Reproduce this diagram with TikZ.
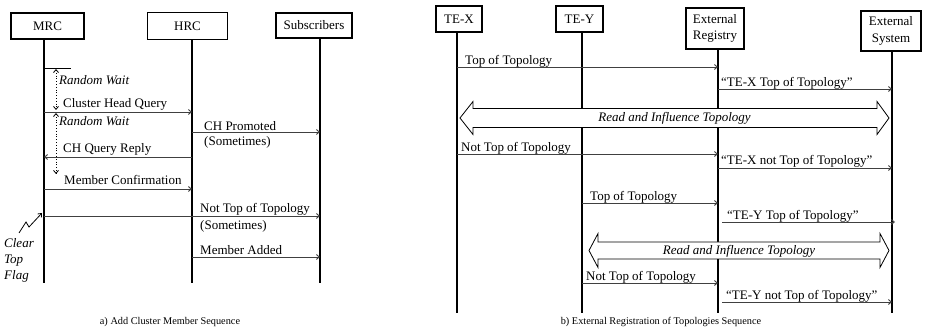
\documentclass[tikz,border=0pt]{standalone}
\usepackage{fontspec}
\setmainfont{Liberation Serif}
\usetikzlibrary{arrows.meta}
\begin{document}
\begin{tikzpicture}[x=1pt,y=-1pt,
  actor/.style={draw, line width=2.6pt, fill=white, inner sep=0pt, align=center,
    font=\fontsize{13}{16.5}\selectfont},
  thinactor/.style={actor, line width=1.8pt},
  life/.style={line width=2.6pt},
  thinlife/.style={line width=1.6pt},
  msg/.style={draw=black!75, line width=0.9pt, -{Straight Barb[length=3pt,width=5pt]}},
  lbl/.style={font=\fontsize{13}{15}\selectfont, inner sep=0pt, anchor=west},
  note/.style={font=\fontsize{13}{15}\selectfont\itshape, inner sep=0pt, anchor=west},
  bigarrow/.style={draw, fill=white, line width=0.8pt, line join=miter},
  caption/.style={font=\fontsize{10.3}{12}\selectfont, inner sep=0pt}]
\useasboundingbox (0,0) rectangle (927,336);

% ---------- a) Add Cluster Member Sequence ----------
\node[actor, minimum width=73pt, minimum height=26pt] (MRC) at (47.5,26) {MRC};
\node[thinactor, minimum width=80pt, minimum height=27pt] (HRC) at (187.5,26) {HRC};
\node[actor, minimum width=76pt, minimum height=25pt] (SUB) at (314,25.5) {Subscribers};

\coordinate (lMRC) at (44,0);
\coordinate (lHRC) at (192,0);
\coordinate (lSUB) at (320,0);

\draw[life] (lMRC |- MRC.south) -- (lMRC |- 0,283);
\draw[thinlife] (lHRC |- HRC.south) -- (lHRC |- 0,283);
\draw[life] (lSUB |- SUB.south) -- (lSUB |- 0,283);

% random wait intervals
\draw[line width=0.9pt] (lMRC |- 0,68) -- (71,68);
\coordinate (rw1a) at (56,69);
\coordinate (rw1b) at (56,110);
\coordinate (rw2a) at (56,113);
\coordinate (rw2b) at (56,174);
\draw[dotted, line width=0.8pt, {Straight Barb[length=3pt,width=5pt]}-{Straight Barb[length=3pt,width=5pt]}] (rw1a) -- (rw1b);
\draw[dotted, line width=0.8pt, {Straight Barb[length=3pt,width=5pt]}-{Straight Barb[length=3pt,width=5pt]}] (rw2a) -- (rw2b);
\node[note] (rw1) at (59,80) {Random Wait};
\node[note] (rw2) at (59,121) {Random Wait};

% messages
\draw[msg] (lMRC |- 0,112) -- (lHRC |- 0,112);
\node[lbl] (chq) at (63,104) {Cluster Head Query};

\draw[msg] (lHRC |- 0,132) -- (lSUB |- 0,132);
\node[lbl] (chp) at (204,126.5) {CH Promoted};
\node[lbl] (chp2) at (204,142) {(Sometimes)};

\draw[msg] (lHRC |- 0,157) -- (lMRC |- 0,157);
\node[lbl] (chr) at (63,149) {CH Query Reply};

\draw[msg] (lMRC |- 0,189) -- (lHRC |- 0,189);
\node[lbl] (mc) at (64,180) {Member Confirmation};

\draw[msg] (lMRC |- 0,216) -- (lSUB |- 0,216);
\node[lbl] (ntt) at (200,209.5) {Not Top of Topology};
\node[lbl] (ntt2) at (200,226) {(Sometimes)};

\draw[msg] (lHRC |- 0,257) -- (lSUB |- 0,257);
\node[lbl] (ma) at (200,250.5) {Member Added};

% clear top flag
\node[note, align=left, font=\fontsize{13}{16.2}\selectfont\itshape, anchor=north west] (ctf) at (4,238) {Clear\\Top\\Flag};
\coordinate (zz1) at (19,233);
\coordinate (zz2) at (26,222);
\coordinate (zz3) at (29,227);
\coordinate (zz4) at (42,213);
\draw[line width=0.8pt, -{Straight Barb[length=3pt,width=5pt]}] (zz1) -- (zz2) -- (zz3) -- (zz4);

\node[caption] (capa) at (170,322) {a) Add Cluster Member Sequence};

% ---------- b) External Registration of Topologies Sequence ----------
\node[actor, minimum width=46pt, minimum height=26pt] (TEX) at (459,19) {TE-X};
\node[actor, minimum width=47pt, minimum height=26pt] (TEY) at (579.5,19) {TE-Y};
\node[actor, minimum width=58pt, minimum height=41pt] (REG) at (715,28.5) {External\\Registry};
\node[actor, minimum width=60pt, minimum height=40pt] (SYS) at (891,31) {External\\System};

\coordinate (lTEX) at (457,0);
\coordinate (lTEY) at (582,0);
\coordinate (lREG) at (718,0);
\coordinate (lSYS) at (892,0);

\draw[life] (lTEX |- TEX.south) -- (lTEX |- 0,313);
\draw[life] (lTEY |- TEY.south) -- (lTEY |- 0,313);
\draw[life] (lREG |- REG.south) -- (lREG |- 0,313);
\draw[life] (lSYS |- SYS.south) -- (lSYS |- 0,313);

\draw[msg] (lTEX |- 0,67) -- (lREG |- 0,67);
\node[lbl] (t1) at (465,61) {Top of Topology};

\draw[msg] (lREG |- 0,89) -- (lSYS |- 0,89);
\node[lbl] (t2) at (721,83) {“TE-X Top of Topology”};

% shared topology exchange, all four
\draw[bigarrow] (460,118) -- (473,101.5) -- (473,108.5) -- (877,108.5) -- (877,101.5)
  -- (889,118) -- (877,134.5) -- (877,127.5) -- (473,127.5) -- (473,134.5) -- cycle;
\node[note, anchor=center] (rif1) at (674.5,118.5) {Read and Influence Topology};

\draw[msg] (lTEX |- 0,154) -- (lREG |- 0,154);
\node[lbl] (t3) at (461,148) {Not Top of Topology};

\draw[msg] (lREG |- 0,168) -- (lSYS |- 0,168);
\node[lbl] (t4) at (721,161) {“TE-X not Top of Topology”};

\draw[msg] (lTEY |- 0,203) -- (lREG |- 0,203);
\node[lbl] (t5) at (590,197) {Top of Topology};

\draw[msg] ([xshift=4pt]lREG |- 0,222) -- ([xshift=3pt]lSYS |- 0,222);
\node[lbl] (t6) at (727,216.5) {“TE-Y Top of Topology”};

% shared topology exchange, TE-Y onwards
\draw[bigarrow] (589,250.5) -- (598,233.5) -- (598,242) -- (880,242) -- (880,233.5)
  -- (889,250.5) -- (880,267.5) -- (880,259) -- (598,259) -- (598,267.5) -- cycle;
\node[note, anchor=center] (rif2) at (739,251.5) {Read and Influence Topology};

\draw[msg] (lTEY |- 0,283) -- (lREG |- 0,283);
\node[lbl] (t7) at (586,277) {Not Top of Topology};

\draw[msg] ([xshift=4pt]lREG |- 0,302) -- (lSYS |- 0,302);
\node[lbl] (t8) at (726,296) {“TE-Y not Top of Topology”};

\node[caption] (capb) at (661,322) {b) External Registration of Topologies Sequence};
\end{tikzpicture}
\end{document}
